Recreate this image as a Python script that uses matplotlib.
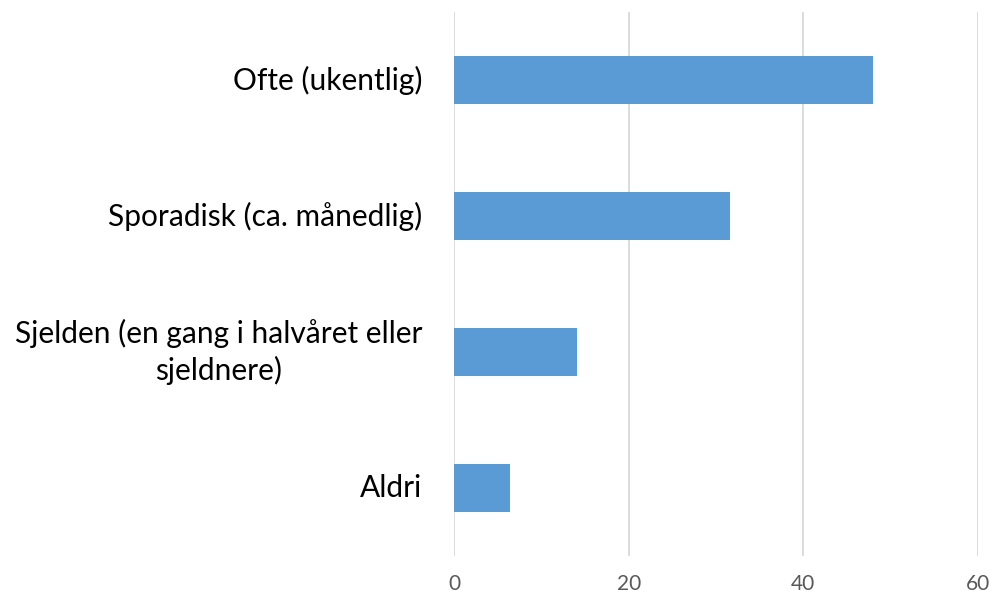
import matplotlib

matplotlib.use("Agg")

import matplotlib.pyplot as plt
from matplotlib.transforms import offset_copy

categories = [
    "Ofte (ukentlig)",
    "Sporadisk (ca. månedlig)",
    "Sjelden (en gang i halvåret eller\nsjeldnere)",
    "Aldri",
]
values = [48.0, 31.6, 14.1, 6.4]
x_ticks = [0, 20, 40, 60]

plt.rcParams["font.family"] = ["Lato", "DejaVu Sans"]

fig = plt.figure(figsize=(9.95, 5.98), dpi=100)
ax = fig.add_axes([0.4563, 0.0702, 0.5266, 0.9097])

ypos = list(range(len(categories)))
ax.barh(ypos, values, height=0.35, color="#5B9BD5", zorder=3)

ax.set_xlim(0, 60)
ax.set_ylim(len(categories) - 0.5, -0.5)
ax.set_xticks(x_ticks)
ax.set_xticklabels([str(t) for t in x_ticks], fontsize=15, color="#595959")
ax.set_yticks(ypos)
ax.set_yticklabels([])

# category labels drawn as text so multi-line ones can be centred
label_tf = offset_copy(ax.get_yaxis_transform(), fig=fig, x=-32, y=0, units="dots")
for y, name in zip(ypos, categories):
    ax.text(0, y, name, transform=label_tf, fontsize=21.5, color="black",
            ha="right", va="center", multialignment="center", linespacing=1.35)

ax.grid(axis="x", color="#D9D9D9", lw=1.3, zorder=0)
for s in ax.spines.values():
    s.set_visible(False)
ax.tick_params(axis="both", length=0)
ax.tick_params(axis="x", pad=13)

fig.savefig("out.png", dpi=100)
